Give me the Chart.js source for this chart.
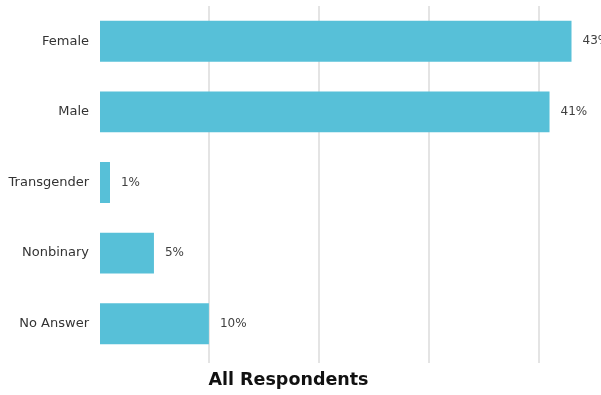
<!DOCTYPE html>
<html>
<head>
<meta charset="utf-8">
<script src="https://cdn.jsdelivr.net/npm/chart.js@4.4.0/dist/chart.umd.min.js"></script>
<style>
  html, body { margin: 0; padding: 0; background: #fff; }
  #wrap { width: 601px; height: 395px; }
</style>
</head>
<body>
<div id="wrap"><canvas id="myChart"></canvas></div>
<script>
// survey answers, percent of all respondents
const categories = ["Female", "Male", "Transgender", "Nonbinary", "No Answer"];
const shares = [43, 41, 1, 5, 10];
const gridValues = [0, 10, 20, 30, 40];
const titleText = "All Respondents";

// draws the "43%" style labels just right of each bar
const valueLabels = {
  id: "valueLabels",
  afterDatasetsDraw(chart) {
    const ctx = chart.ctx;
    const meta = chart.getDatasetMeta(0);
    ctx.save();
    ctx.font = "12px 'DejaVu Sans'";
    ctx.fillStyle = "#404040";
    ctx.textBaseline = "middle";
    meta.data.forEach((bar, i) => {
      ctx.fillText(shares[i] + "%", bar.x + 11, bar.y);
    });
    ctx.restore();
  },
};

new Chart("myChart", {
  type: "bar",
  data: {
    labels: categories,
    datasets: [
      {
        data: shares,
        backgroundColor: "#57C0D8",
        borderWidth: 0,
        barPercentage: 0.58,
        categoryPercentage: 1,
      },
    ],
  },
  options: {
    indexAxis: "y",
    responsive: true,
    maintainAspectRatio: false,
    animation: false,
    layout: { padding: { top: 6, right: 24, bottom: 0, left: 0 } },
    plugins: {
      legend: { display: false },
      tooltip: { enabled: false },
      title: {
        display: true,
        text: titleText,
        position: "bottom",
        color: "#111",
        font: { family: "'DejaVu Sans'", size: 17.5, weight: "bold" },
        padding: { top: 7, bottom: 4 },
      },
    },
    scales: {
      x: {
        min: 0,
        max: 43.5,
        ticks: { display: false },
        afterBuildTicks(scale) {
          scale.ticks = gridValues.map((v) => ({ value: v }));
        },
        border: { display: false },
        grid: {
          // no line at zero, like the original
          color: (c) => (c.tick && c.tick.value > 0 ? "#e4e4e4" : "rgba(0,0,0,0)"),
          lineWidth: 2,
          drawTicks: true,
          tickLength: 4,
        },
      },
      y: {
        border: { display: false },
        grid: { display: false, drawTicks: false },
        ticks: {
          color: "#333",
          padding: 10,
          font: { family: "'DejaVu Sans'", size: 13 },
        },
        afterFit(scale) {
          scale.width = 99;
          scale.paddingTop = 0;
          scale.paddingBottom = 0;
        },
      },
    },
  },
  plugins: [valueLabels],
});
</script>
</body>
</html>
